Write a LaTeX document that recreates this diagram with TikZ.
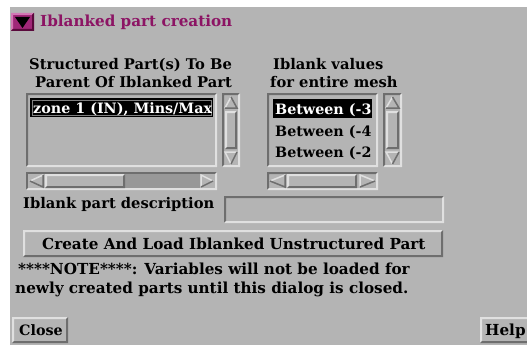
\documentclass[tikz,border=0pt]{standalone}
\usepackage{fontspec}
\setmainfont{DejaVu Serif}
\definecolor{bg}{RGB}{180,180,180}
\definecolor{hi}{RGB}{224,224,224}
\definecolor{lo}{RGB}{110,110,110}
\definecolor{trough}{RGB}{152,152,152}
\definecolor{ttl}{RGB}{140,20,100}
\definecolor{ttlbox}{RGB}{160,40,120}
\definecolor{ttlhi}{RGB}{210,120,180}
\definecolor{ttllo}{RGB}{90,10,60}
\newcommand{\bevelbox}[6]{%
 \fill[#5] (#1,#2)--(#3,#2)--(#3-2,#2+2)--(#1+2,#2+2)--(#1+2,#4-2)--(#1,#4)--cycle;
 \fill[#6] (#3,#4)--(#1,#4)--(#1+2,#4-2)--(#3-2,#4-2)--(#3-2,#2+2)--(#3,#2)--cycle;}
\newcommand{\raisedbox}[4]{\fill[bg] (#1,#2) rectangle (#3,#4); \bevelbox{#1}{#2}{#3}{#4}{hi}{lo}}
\newcommand{\sunkbox}[4]{\fill[bg] (#1,#2) rectangle (#3,#4); \bevelbox{#1}{#2}{#3}{#4}{lo}{hi}}
\newcommand{\uparr}[4]{%
 \draw[hi,line width=1.5pt] ({(#1+#3)/2},#2) -- (#1,#4);
 \draw[lo,line width=1.5pt] (#1,#4) -- (#3,#4) -- ({(#1+#3)/2},#2);}
\newcommand{\dnarr}[4]{%
 \draw[hi,line width=1.5pt] ({(#1+#3)/2},#4) -- (#1,#2) -- (#3,#2);
 \draw[lo,line width=1.5pt] (#3,#2) -- ({(#1+#3)/2},#4);}
\newcommand{\ltarr}[4]{%
 \draw[hi,line width=1.5pt] (#3,#2) -- (#1,{(#2+#4)/2});
 \draw[lo,line width=1.5pt] (#1,{(#2+#4)/2}) -- (#3,#4) -- (#3,#2);}
\newcommand{\rtarr}[4]{%
 \draw[hi,line width=1.5pt] (#3,{(#2+#4)/2}) -- (#1,#2) -- (#1,#4);
 \draw[lo,line width=1.5pt] (#1,#4) -- (#3,{(#2+#4)/2});}
\begin{document}
\begin{tikzpicture}[x=1pt,y=-1pt,
  txt/.style={font=\fontsize{15.2}{17}\selectfont\bfseries, inner sep=0pt, anchor=base west},
  hdtxt/.style={txt, font=\fontsize{14.7}{17}\selectfont\bfseries},
  itemtxt/.style={txt, font=\fontsize{14.3}{17}\selectfont\bfseries},
  ttltxt/.style={txt, text=ttl}]
\useasboundingbox (0,0) rectangle (527,345);
\fill[white] (0,0) rectangle (527,345);
\fill[bg] (10,7) rectangle (527,345);
% title toggle
\fill[ttlbox] (11,13) rectangle (34,31);
\bevelbox{11}{13}{34}{31}{ttlhi}{ttllo}
\fill[black] (15,17) -- (30,17) -- (22.5,28) -- cycle;
\node[ttltxt] (title) at (40,27) {Iblanked part creation};
% headings
\node[hdtxt] (h1a) at (29,70) {Structured Part(s) To Be};
\node[hdtxt] (h1b) at (35,87) {Parent Of Iblanked Part};
\node[hdtxt] (h2a) at (273,70) {Iblank values};
\node[hdtxt] (h2b) at (270,87) {for entire mesh};
% list 1
\sunkbox{26}{93}{217}{167}
\fill[black] (30,98) rectangle (213,117);
\draw[gray,line width=0.6pt] (32,100) rectangle (211,115);
\begin{scope}
\clip (30,98) rectangle (211,117);
\node[itemtxt,text=white] (z1) at (33,113) {zone 1 (IN), Mins/Max};
\end{scope}
% vscroll 1
\sunkbox{222}{93}{240}{167}
\uparr{225}{97}{237}{108}
\raisedbox{225}{111}{237}{149}
\dnarr{225}{152}{237}{164}
% hscroll 1
\sunkbox{26}{172}{217}{190}
\fill[trough] (28,174) rectangle (215,188);
\fill[bg] (28,174) rectangle (45,188);
\ltarr{30}{175}{43}{187}
\raisedbox{45}{174}{125}{188}
\fill[bg] (200,174) rectangle (215,188);
\rtarr{201}{175}{213}{187}
% list 2
\sunkbox{267}{93}{378}{167}
\fill[black] (273,99) rectangle (372,118);
\begin{scope}
\clip (271,97) rectangle (372,165);
\node[itemtxt,text=white] (b1) at (275,114) {Between (-3};
\node[itemtxt] (b2) at (275,136) {Between (-4};
\node[itemtxt] (b3) at (275,157) {Between (-2};
\end{scope}
% vscroll 2
\sunkbox{383}{93}{402}{167}
\uparr{386}{97}{399}{108}
\raisedbox{386}{111}{399}{149}
\dnarr{386}{152}{399}{164}
% hscroll 2
\sunkbox{267}{172}{378}{190}
\ltarr{270}{175}{285}{187}
\raisedbox{287}{174}{357}{188}
\rtarr{360}{175}{375}{187}
% description
\node[hdtxt] (desc) at (23,208) {Iblank part description};
\sunkbox{224}{196}{444}{223}
% create button
\raisedbox{23}{230}{443}{257}
\node[txt] (create) at (42,249) {Create And Load Iblanked Unstructured Part};
% note
\node[txt] (note1) at (18,274) {****NOTE****: Variables will not be loaded for};
\node[txt] (note2) at (15,293) {newly created parts until this dialog is closed.};
% buttons
\raisedbox{12}{317}{68}{343}
\node[itemtxt] (close) at (19,335) {Close};
\raisedbox{480}{317}{530}{343}
\node[txt] (help) at (485,335) {Help};
\end{tikzpicture}
\end{document}
